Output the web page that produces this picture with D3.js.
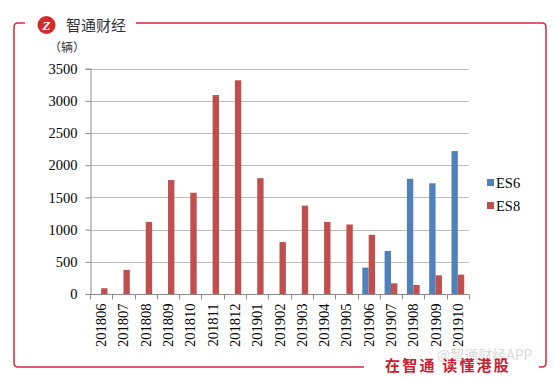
<!DOCTYPE html>
<html><head><meta charset="utf-8">
<script src="https://cdn.jsdelivr.net/npm/d3@7"></script>
<style>html,body{margin:0;padding:0;background:#fff;}svg{display:block;}
.serif{font-family:"Liberation Serif","DejaVu Serif",serif;}</style>
</head><body>
<svg id="c" width="554" height="377"></svg>
<script>
const categories = ["201806","201807","201808","201809","201810","201811","201812","201901","201902","201903","201904","201905","201906","201907","201908","201909","201910"];
const es6 = [0,0,0,0,0,0,0,0,0,0,0,0,410,668,1790,1720,2220];
const es8 = [90,375,1120,1770,1573,3090,3320,1800,807,1373,1120,1080,920,166,140,290,300];
const seriesNames = ["ES6","ES8"];
const colors = ["#4F81BD","#C0504D"];
const yTicks = [0,500,1000,1500,2000,2500,3000,3500];

const svg = d3.select("#c");
const red = "#D6283A";
const cjk = "'Noto Sans CJK SC','Noto Sans',sans-serif";

// frame
const fr = 4;
svg.append("path")
  .attr("d", `M25,23 L${14+fr},23 Q14,23 14,${23+fr} L14,${367-fr} Q14,367 ${14+fr},367 L364,367`)
  .attr("fill","none").attr("stroke",red).attr("stroke-width",1.5);
svg.append("path")
  .attr("d", `M136,23 L${546-fr},23 Q546,23 546,${23+fr} L546,${367-fr} Q546,367 ${546-fr},367 L539,367`)
  .attr("fill","none").attr("stroke",red).attr("stroke-width",1.5);

// logo
svg.append("circle").attr("cx",46.5).attr("cy",25).attr("r",9).attr("fill","#D42A2A");
svg.append("text").attr("x",46.5).attr("y",30).attr("text-anchor","middle")
  .attr("class","serif").attr("font-style","italic").attr("font-weight","bold")
  .attr("font-size",13).attr("fill","#fff").text("Z");
svg.append("text").attr("x",66).attr("y",30.5).attr("font-family",cjk)
  .attr("font-size",15).attr("fill","#333").text("智通财经");

// watermark
svg.append("text").attr("x",437).attr("y",360).attr("font-family",cjk).attr("font-size",14)
  .attr("fill","#DADADA").text("@智通财经APP");

// bottom slogan
svg.append("text").attr("x",385).attr("y",371).attr("font-family",cjk).attr("font-weight","bold")
  .attr("font-size",15).attr("letter-spacing",2.2).attr("fill","#C8202F").text("在智通 读懂港股");

// unit label
svg.append("text").attr("x",49).attr("y",52).attr("font-family",cjk)
  .attr("font-size",12).attr("fill","#333").text("（辆）");

// plot
const x0 = 90, x1 = 469, yB = 294, yT = 68.7;
const x = d3.scaleBand().domain(categories).range([x0,x1]).paddingInner(0).paddingOuter(0);
const y = d3.scaleLinear().domain([0,3500]).range([yB,yT]);
const bw = x.bandwidth();
const xs = d3.scaleBand().domain(seriesNames).range([bw*0.75/3.5, bw - bw*0.75/3.5]);

// gridlines
svg.append("g").selectAll("line").data(yTicks.filter(d=>d>0)).join("line")
  .attr("x1",x0).attr("x2",x1).attr("y1",d=>Math.round(y(d))+0.5).attr("y2",d=>Math.round(y(d))+0.5)
  .attr("stroke","#BDBDBD").attr("stroke-width",1);

// y axis
const yAxis = d3.axisLeft(y).tickValues(yTicks).tickSize(5).tickPadding(8).tickFormat(d3.format("d"));
const gy = svg.append("g").attr("transform",`translate(${x0+0.5},0)`).call(yAxis);
gy.attr("font-family",null).attr("font-size",null);
gy.select(".domain").attr("stroke","#8C8C8C");
gy.selectAll(".tick line").attr("stroke","#8C8C8C");
gy.selectAll("text").attr("class","serif").style("font-size","14.5px").attr("fill","#000");

// bars
const data = [es6, es8];
data.forEach((vals,si)=>{
  svg.append("g").selectAll("rect").data(vals.map((v,i)=>({c:categories[i],v}))).join("rect")
    .attr("x",d=>x(d.c)+xs(seriesNames[si]))
    .attr("width",xs.bandwidth())
    .attr("y",d=>y(d.v)).attr("height",d=>yB-y(d.v))
    .attr("fill",colors[si]);
});

// x axis
const gx = svg.append("g").attr("transform",`translate(0,${yB+0.5})`);
gx.append("line").attr("x1",x0).attr("x2",x1).attr("stroke","#8C8C8C");
gx.selectAll("line.t").data(d3.range(categories.length+1)).join("line").attr("class","t")
  .attr("x1",i=>Math.round(x0+i*bw)+0.5).attr("x2",i=>Math.round(x0+i*bw)+0.5)
  .attr("y1",0).attr("y2",5).attr("stroke","#8C8C8C");
gx.selectAll("text").data(categories).join("text")
  .attr("transform",d=>`translate(${x(d)+bw/2+5},9) rotate(-90)`)
  .attr("text-anchor","end").attr("class","serif").style("font-size","14.5px").attr("fill","#000")
  .text(d=>d);

// legend
const lg = svg.append("g");
seriesNames.forEach((n,i)=>{
  lg.append("rect").attr("x",487).attr("y",179+i*23).attr("width",7).attr("height",7).attr("fill",colors[i]);
  lg.append("text").attr("x",496).attr("y",188+i*23).attr("class","serif").style("font-size","14.5px")
    .attr("fill","#000").text(n);
});
</script>
</body></html>
